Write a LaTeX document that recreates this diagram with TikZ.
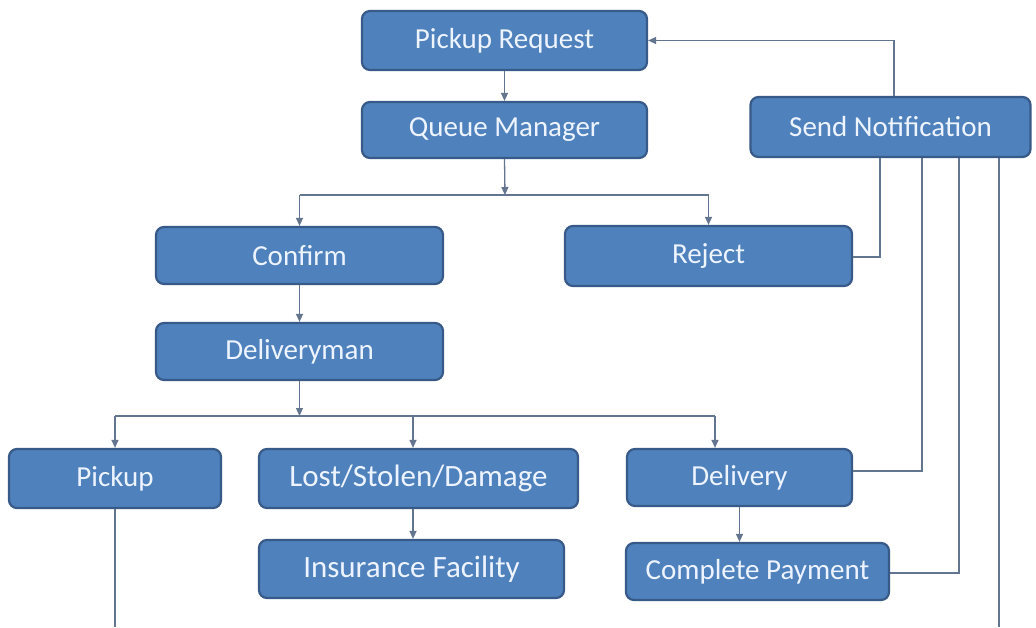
\documentclass[tikz,border=0pt]{standalone}
\usepackage{fontspec}
\setmainfont{Carlito}
\usetikzlibrary{arrows.meta}
\definecolor{boxfill}{HTML}{4F81BD}
\definecolor{boxline}{HTML}{385A88}
\definecolor{boxtext}{HTML}{EEF4FF}
\definecolor{linkcol}{HTML}{64768F}
\begin{document}
\begin{tikzpicture}[x=1pt,y=-1pt,
  box/.style={draw=boxline, fill=boxfill, line width=2.2pt, rounded corners=8pt,
    text=boxtext, font=\fontsize{29}{33}\selectfont, inner sep=0pt},
  bigtext/.style={font=\fontsize{31}{35}\selectfont},
  link/.style={draw=linkcol, line width=1.3pt},
  tip/.style={link, -{Triangle[length=8pt,width=7pt]}}]
\fill[white] (0,0) rectangle (1036,627);
\useasboundingbox (0,0) rectangle (1036,627);

% boxes
\node[box, minimum width=285pt, minimum height=59pt] (req) at (504.5,40.5) {Pickup Request};
\node[box, minimum width=285pt, minimum height=56pt] (qm) at (504.5,130) {Queue Manager};
\node[box, minimum width=280pt, minimum height=60pt] (notif) at (890.5,127) {Send Notification};
\node[box, minimum width=287pt, minimum height=57pt] (confirm) at (299.5,255.5) {Confirm};
\node[box, minimum width=287pt, minimum height=60pt] (reject) at (708.5,256) {Reject};
\node[box, minimum width=287pt, minimum height=57pt] (dman) at (299.5,351.5) {Deliveryman};
\node[box, minimum width=212pt, minimum height=59pt] (pickup) at (115,478.5) {Pickup};
\node[box, bigtext, minimum width=319pt, minimum height=59pt] (lost) at (418.5,478.5) {Lost/Stolen/Damage};
\node[box, bigtext, minimum width=305pt, minimum height=58pt] (ins) at (411.5,569) {Insurance Facility};
\node[box, minimum width=225pt, minimum height=57pt] (deliv) at (739.5,477.5) {Delivery};
\node[box, minimum width=263pt, minimum height=57pt] (pay) at (757.5,571.5) {Complete Payment};

% junction points
\coordinate (bottom) at (0,627);
\coordinate (split1) at (505,195);
\coordinate (split2) at (301,416);
\coordinate (lostIn) at (413,416);
\coordinate (delivIn) at (715,416);
\coordinate (rejIn) at (880,257);
\coordinate (delivOut) at (922,471);
\coordinate (payOut) at (959,573);
\coordinate (tail) at (999,0);
\coordinate (back) at (894,40.5);

% main flow
\draw[tip] (req.south) -- (qm.north);
\draw[tip] (qm.south) -- (split1);
\draw[link] (confirm.north |- split1) -- (reject.north |- split1);
\draw[tip] (confirm.north |- split1) -- (confirm.north);
\draw[tip] (reject.north |- split1) -- (reject.north);
\draw[tip] (confirm.south) -- (dman.north);
\draw[tip] (dman.south) -- (dman.south |- split2);
\draw[link] (pickup.north |- split2) -- (delivIn);
\draw[tip] (pickup.north |- split2) -- (pickup.north);
\draw[tip] (lostIn) -- (lostIn |- lost.north);
\draw[tip] (delivIn) -- (delivIn |- deliv.north);
\draw[tip] (lostIn |- lost.south) -- (lostIn |- ins.north);
\draw[tip] (deliv.south) -- (pay.north -| deliv.south);
\draw[link] (pickup.south) -- (pickup.south |- bottom);

% notification links
\draw[link] (notif.south -| rejIn) -- (rejIn) -- (rejIn -| reject.east);
\draw[link] (notif.south -| delivOut) -- (delivOut) -- (delivOut -| deliv.east);
\draw[link] (notif.south -| payOut) -- (payOut) -- (payOut -| pay.east);
\draw[link] (notif.south -| tail) -- (tail |- bottom);
\draw[tip] (notif.north -| back) -- (back) -- (req.east);
\end{tikzpicture}
\end{document}
